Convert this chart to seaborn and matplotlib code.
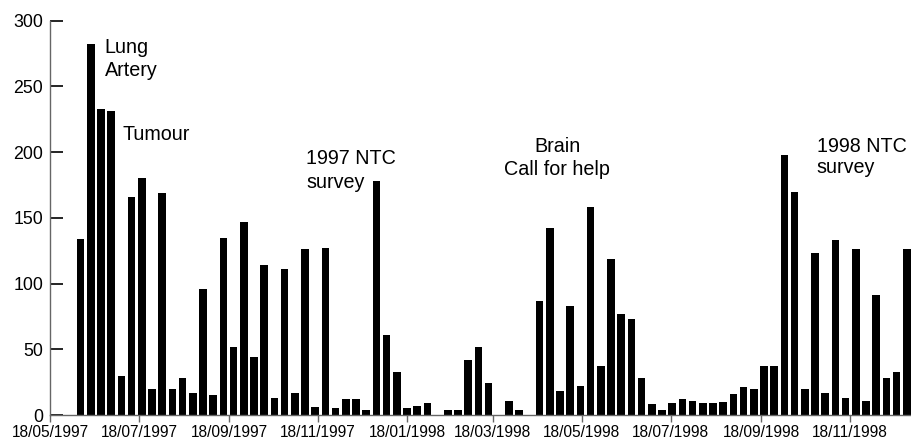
import numpy as np
import pandas as pd
import matplotlib
matplotlib.use("Agg")
import matplotlib.pyplot as plt
import seaborn as sns

# weekly counts, first week 08/06/1997
first_week = "1997-06-08"
calls = [134, 282, 233, 231, 30, 166, 180, 20, 169, 20,
         28, 17, 96, 15, 135, 52, 147, 44, 114, 13,
         111, 17, 126, 6, 127, 5, 12, 12, 4, 178,
         61, 33, 5, 7, 9, 0, 4, 4, 42, 52,
         24, 0, 11, 4, 0, 87, 142, 18, 83, 22,
         158, 37, 119, 77, 73, 28, 8, 4, 9, 12,
         11, 9, 9, 10, 16, 21, 20, 37, 37, 198,
         170, 20, 123, 17, 133, 13, 126, 11, 91, 28,
         33, 126]

tick_labels = ["18/05/1997", "18/07/1997", "18/09/1997", "18/11/1997", "18/01/1998",
               "18/03/1998", "18/05/1998", "18/07/1998", "18/09/1998", "18/11/1998"]

# annotations: (text, week position, y value, alignment)
notes = [("Lung", 2.34, 275.4, "left"),
         ("Artery", 2.34, 257.9, "left"),
         ("Tumour", 4.08, 209.2, "left"),
         ("1997 NTC", 22.13, 190.7, "left"),
         ("survey", 22.13, 172.7, "left"),
         ("Brain", 46.73, 200.3, "center"),
         ("Call for help", 46.73, 182.6, "center"),
         ("1998 NTC", 72.16, 200.3, "left"),
         ("survey", 72.16, 183.9, "left")]

weeks = pd.date_range(first_week, periods=len(calls), freq="7D")
df = pd.DataFrame({"week": weeks.strftime("%d/%m/%Y"), "calls": calls})

sns.set_style("white")
plt.rcParams["font.family"] = ["Liberation Sans", "DejaVu Sans"]

fig = plt.figure(figsize=(9.12, 4.42), dpi=100)
ax = fig.add_axes([50 / 912, 27 / 442, 861 / 912, 394.3 / 442])

sns.barplot(data=df, x="week", y="calls", color="black", width=0.74,
            saturation=1, linewidth=0, ax=ax)

# tick positions in week units
tick_dates = pd.to_datetime(tick_labels, format="%d/%m/%Y")
tick_pos = (tick_dates - pd.Timestamp(first_week)).days / 7
ax.set_xticks(tick_pos)
ax.set_xticklabels(tick_labels)
ax.set_xlim(tick_pos[0], 81.41)
ax.set_ylim(0, 300)
ax.set_yticks(np.arange(0, 301, 50))
ax.set_xlabel("")
ax.set_ylabel("")

for s in ["top", "right"]:
    ax.spines[s].set_visible(False)
for s in ["left", "bottom"]:
    ax.spines[s].set_color("#666666")
    ax.spines[s].set_linewidth(1)

ax.tick_params(axis="y", left=True, direction="in", length=9.5, width=1.2,
               color="black", pad=5, labelsize=12.8, labelcolor="black")
ax.tick_params(axis="x", bottom=True, direction="out", length=5, width=1,
               color="#666666", pad=2, labelsize=11.2, labelcolor="black")

for txt, x, y, ha in notes:
    ax.text(x, y, txt, ha=ha, va="baseline", fontsize=14.2, color="black")

fig.savefig("out.png", dpi=100)
